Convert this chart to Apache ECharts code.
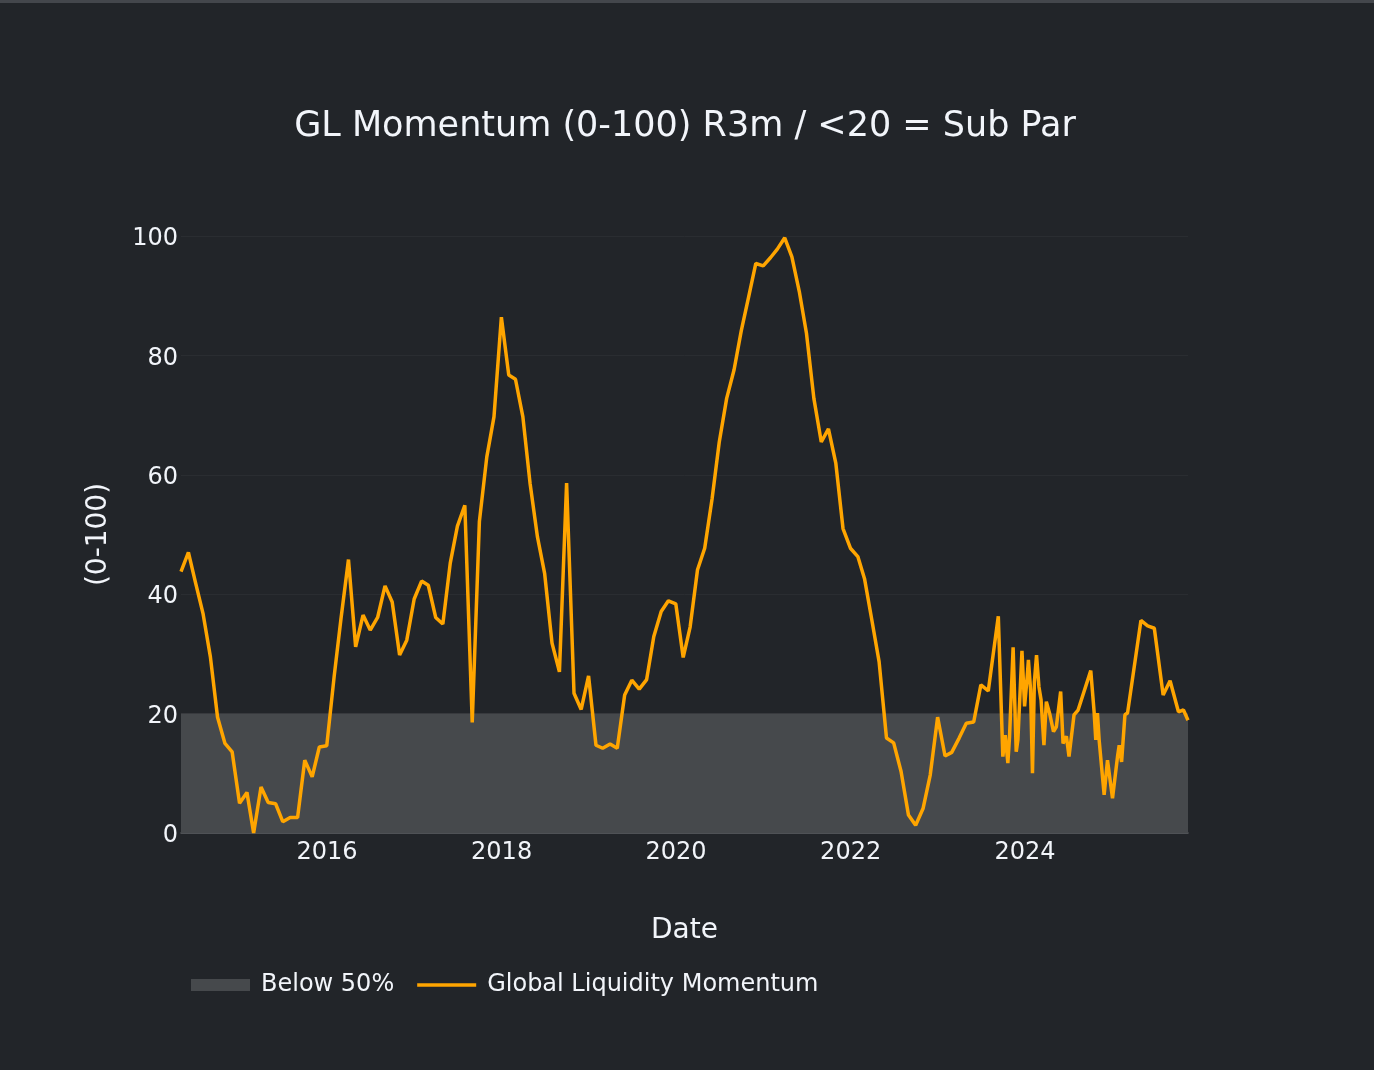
<!DOCTYPE html>
<html>
<head>
<meta charset="utf-8">
<script src="https://cdn.jsdelivr.net/npm/echarts@6/dist/echarts.min.js"></script>
<style>
  html, body { margin: 0; padding: 0; background: #222529; }
  #chart { width: 1374px; height: 1070px; }
  #topbar { position: absolute; left: 0; top: 0; width: 1374px; height: 3px; background: #44474c; }
</style>
</head>
<body>
<div id="chart"></div>
<div id="topbar"></div>
<script>
// monthly readings (month-end), first year starts in April, last one stops in July
const v2014 = [43.8, 47.0, 41.9, 36.8, 29.5, 19.4, 15.0, 13.6, 5.0]
const v2015 = [6.8, 0.0, 7.7, 5.1, 4.9, 1.9, 2.6, 2.6, 12.2, 9.4, 14.4, 14.6]
const v2016 = [26.2, 36.0, 45.8, 31.2, 36.5, 34.0, 36.1, 41.4, 38.7, 29.8, 32.3, 39.2]
const v2017 = [42.2, 41.5, 36.1, 35.0, 45.2, 51.4, 54.9, 18.5, 52.2, 63.0, 69.7, 86.4]
const v2018 = [76.7, 76.0, 69.7, 58.6, 49.6, 43.5, 31.8, 27.0, 58.6, 23.4, 20.7, 26.3]
const v2019 = [14.7, 14.2, 14.9, 14.2, 23.1, 25.6, 24.1, 25.7, 32.9, 37.1, 38.9, 38.4]
const v2020 = [29.4, 34.5, 44.1, 47.7, 56.0, 65.5, 72.8, 77.6, 84.1, 89.8, 95.4, 95.0]
const v2021 = [96.4, 97.8, 99.7, 96.5, 90.7, 83.7, 72.8, 65.5, 67.7, 61.9, 51.0, 47.7]
const v2022 = [46.3, 42.6, 35.6, 28.7, 15.9, 15.1, 10.3, 3.0, 1.3, 4.1, 9.7, 19.4]
const v2023 = [12.9, 13.5, 15.9, 18.4, 18.6, 24.8, 23.8]

// irregular readings after mid 2023
const recentDates = ['2023-09-11', '2023-09-30', '2023-10-10', '2023-10-21', '2023-10-28', '2023-11-12',
  '2023-11-25', '2023-12-02', '2023-12-19', '2023-12-30', '2024-01-10', '2024-01-15', '2024-01-24',
  '2024-02-01', '2024-02-09', '2024-02-18', '2024-02-28', '2024-03-08', '2024-03-20', '2024-03-30',
  '2024-04-13', '2024-04-29', '2024-05-11', '2024-05-29', '2024-06-08', '2024-06-22', '2024-07-03',
  '2024-07-24', '2024-08-10', '2024-10-02', '2024-10-16', '2024-10-23', '2024-10-30', '2024-11-06',
  '2024-11-27', '2024-12-11', '2025-01-01', '2025-01-22', '2025-01-29', '2025-02-08', '2025-02-22',
  '2025-03-05', '2025-04-30', '2025-05-28', '2025-06-25', '2025-08-01', '2025-08-30', '2025-10-04',
  '2025-10-25', '2025-11-13']
const recentValues = [36.3, 12.8, 16.4, 11.7, 16.1, 31.1, 13.6, 15.6, 30.5, 21.2, 26.2, 29.0, 24.0,
  10.0, 25.3, 29.8, 24.5, 22.3, 14.7, 22.0, 20.0, 17.0, 17.8, 23.7, 15.0, 16.2, 12.8,
  19.8, 20.6, 27.2, 20.3, 15.6, 20.1, 15.6, 6.4, 12.2, 5.8, 12.8, 14.7, 11.9, 19.8,
  20.1, 35.6, 34.7, 34.3, 23.1, 25.5, 20.3, 20.6, 18.9]

const threshold = 20
const yTicks = [0, 20, 40, 60, 80, 100]

const years = [
  [2014, 3, v2014], [2015, 0, v2015], [2016, 0, v2016], [2017, 0, v2017], [2018, 0, v2018],
  [2019, 0, v2019], [2020, 0, v2020], [2021, 0, v2021], [2022, 0, v2022], [2023, 0, v2023]
]

const momentum = []
years.forEach(([y, m0, vals]) => {
  vals.forEach((v, i) => {
    // month end
    momentum.push([Date.UTC(y, m0 + i + 1, 0), v])
  })
})
recentDates.forEach((d, i) => {
  momentum.push([Date.parse(d + 'T00:00:00Z'), recentValues[i]])
})

const xMin = momentum[0][0]
const xMax = momentum[momentum.length - 1][0]

const chart = echarts.init(document.getElementById('chart'))
const font = '"DejaVu Sans", Verdana, sans-serif'
const txt = '#f2f5fa'

chart.setOption({
  backgroundColor: '#222529',
  useUTC: true,
  animation: false,
  title: {
    text: 'GL Momentum (0-100) R3m / <20 = Sub Par',
    left: 680,
    textAlign: 'center',
    top: 104,
    textStyle: { color: txt, fontFamily: font, fontSize: 35, fontWeight: 'normal' }
  },
  legend: {
    left: 186,
    top: 968,
    itemWidth: 59,
    itemHeight: 12,
    itemGap: 23,
    symbolKeepAspect: true,
    textStyle: { color: txt, fontFamily: font, fontSize: 24, padding: [0, 0, 0, 6] },
    data: [
      { name: 'Below 50%', icon: 'rect' },
      { name: 'Global Liquidity Momentum', icon: 'path://M0,0 L60,0 L60,3.5 L0,3.5 Z' }
    ]
  },
  grid: { left: 181, right: 186, top: 236, bottom: 237 },
  xAxis: {
    type: 'time',
    min: xMin,
    max: xMax,
    name: 'Date',
    nameLocation: 'middle',
    nameGap: 84,
    nameTextStyle: { color: txt, fontFamily: font, fontSize: 28 },
    axisLine: { show: true, lineStyle: { color: '#5c5f63', width: 1.5 } },
    axisTick: { show: false },
    splitLine: { show: false },
    axisLabel: {
      color: txt,
      fontFamily: font,
      fontSize: 24,
      margin: 8,
      showMinLabel: false,
      showMaxLabel: false,
      formatter: (v) => {
        const d = new Date(v)
        return (d.getUTCMonth() === 0 && d.getUTCDate() === 1 && d.getUTCFullYear() % 2 === 0)
          ? String(d.getUTCFullYear()) : ''
      }
    }
  },
  yAxis: {
    type: 'value',
    min: yTicks[0],
    max: yTicks[yTicks.length - 1],
    interval: 20,
    name: '(0-100)',
    nameLocation: 'middle',
    nameGap: 68,
    nameRotate: 90,
    nameTextStyle: { color: txt, fontFamily: font, fontSize: 28 },
    axisLine: { show: false },
    axisTick: { show: false },
    axisLabel: {
      margin: 3,
      formatter: '{t|{value}}',
      rich: { t: { color: txt, fontFamily: font, fontSize: 24, padding: [6, 0, 0, 0] } }
    },
    splitLine: { show: true, lineStyle: { color: '#2a2d31', width: 1 } }
  },
  series: [
    {
      name: 'Below 50%',
      type: 'line',
      data: [[xMin, threshold], [xMax, threshold]],
      symbol: 'none',
      silent: true,
      lineStyle: { width: 0, color: '#46494c' },
      itemStyle: { color: '#46494c' },
      areaStyle: { color: '#46494c', opacity: 1, origin: 'start' },
      z: 1
    },
    {
      name: 'Global Liquidity Momentum',
      type: 'line',
      data: momentum,
      symbol: 'none',
      lineStyle: { width: 3.5, color: '#ffa500' },
      itemStyle: { color: '#ffa500' },
      z: 3
    }
  ]
})
</script>
</body>
</html>
